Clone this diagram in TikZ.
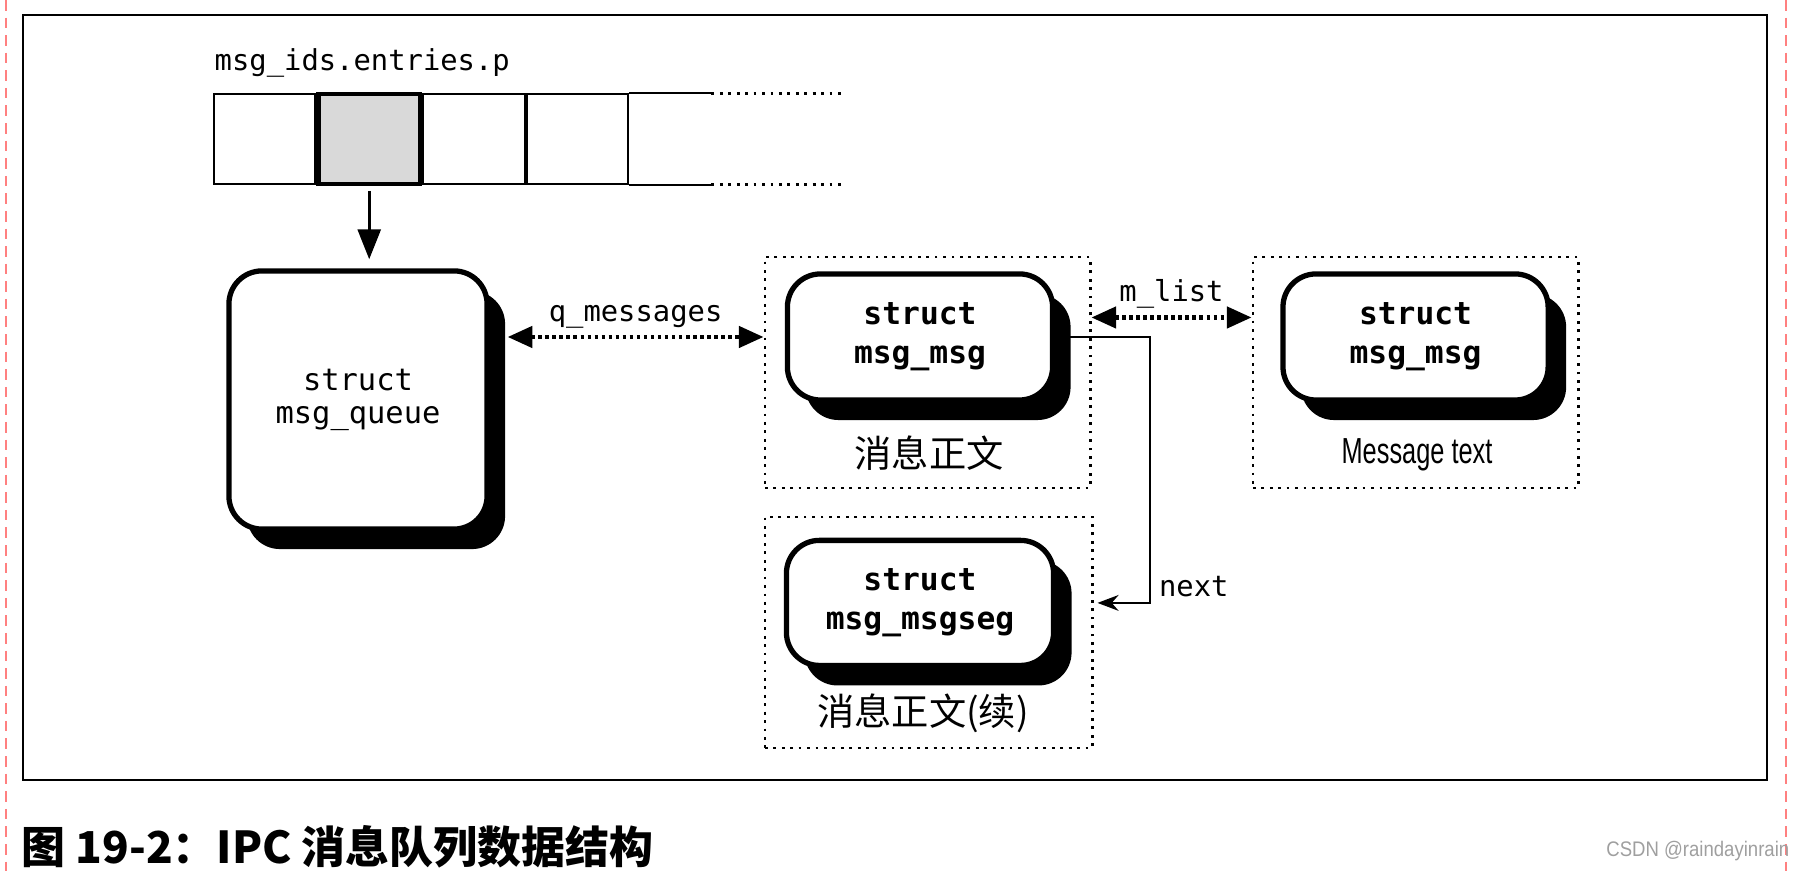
\documentclass[tikz,border=0pt]{standalone}
\usepackage{fontspec}
\setmonofont{DejaVu Sans Mono}
\newfontfamily\cjk{Noto Sans CJK SC}
\newfontfamily\lsans{Liberation Sans}
\usetikzlibrary{arrows.meta,positioning,shadows,calc}

\begin{document}
\begin{tikzpicture}[x=0.01cm, y=-0.01cm, every node/.style={inner sep=0pt},
	cell/.style={draw, line width=0.6pt, minimum width=1.015cm, minimum height=0.895cm},
	structbox/.style={draw, line width=1.5pt, fill=white, rounded corners=0.33cm, align=center,
		font=\ttfamily\bfseries\fontsize{8.9}{11.2}\selectfont,
		drop shadow={shadow xshift=0.18cm, shadow yshift=-0.2cm, fill=black, opacity=1}},
	groupbox/.style={draw, line width=0.8pt, dash pattern=on 0.8pt off 1.6pt, minimum width=3.25cm, minimum height=2.31cm},
	codetext/.style={font=\ttfamily\fontsize{8.2}{10}\selectfont},
	cntext/.style={font=\cjk\fontsize{10.6}{12}\selectfont},
	dotlink/.style={line width=1.2pt, dash pattern=on 1pt off 1pt, {Triangle[length=7pt,width=6pt]}-{Triangle[length=7pt,width=6pt]}}]
			\useasboundingbox (0,0) rectangle (1799,871);
			\draw[red!50, line width=0.3pt, dash pattern=on 3pt off 2pt] (6,0) -- (6,871) (1786,0) -- (1786,871);
			\draw[line width=0.7pt] (23,15) rectangle (1767,780);
			
			\node[codetext, anchor=base west] (arrlbl) at (214,71) {msg\_ids.entries.p};
			\node[cell] (c1) at (264.5,139) {};
			\node[cell, fill=gray!30, line width=1.2pt, right=0pt of c1] (c2) {};
			\node[cell, right=0pt of c2] (c3) {};
			\node[cell, right=0pt of c3] (c4) {};
			\draw[line width=0.6pt] (c4.north east) -- ++(82,0) coordinate (topend);
			\draw[line width=0.6pt] (c4.south east) -- ++(82,0) coordinate (botend);
			\draw[line width=0.8pt, dash pattern=on 0.8pt off 1.6pt] (topend) -- ++(133,0);
			\draw[line width=0.8pt, dash pattern=on 0.8pt off 1.6pt] (botend) -- ++(133,0);
			
			\node[structbox, font=\ttfamily\fontsize{8.65}{9.6}\selectfont, minimum width=2.58cm, minimum height=2.58cm] (qbox) at (358,400) {struct\\msg\_queue};
			\draw[line width=0.9pt, -{Triangle[length=8.5pt,width=6.5pt]}, shorten <=0.05cm, shorten >=0.09cm] (c2.south) -- (c2.south |- qbox.north);
			
			\node[groupbox] (g1) at (927.5,372.5) {};
			\node[groupbox] (g2) at (1415.5,372.5) {};
			\node[groupbox, minimum width=3.27cm] (g3) at (928.5,632.5) {};
			
			\node[structbox, minimum width=2.65cm, minimum height=1.26cm] (m1) at (920,337) {struct\\msg\_msg};
			\node[structbox, minimum width=2.65cm, minimum height=1.26cm, right=2.25cm of m1] (m2) {struct\\msg\_msg};
			\node[structbox, minimum width=2.67cm, minimum height=1.25cm, below=1.35cm of m1] (m3) {struct\\msg\_msgseg};
			
			\node[cntext] (body1) at (929,453) {消息正文};
			\node[font=\lsans\fontsize{10.3}{12}\selectfont] (body2) at (1417,455) {\scalebox{0.7}[1]{Message text}};
			\node[cntext] (body3) at (923,713) {消息正文(续)};
			
			\draw[dotlink] ($(qbox.east |- m1.west)+(18,0)$) -- node[codetext, above=2pt] (qmsg) {q\_messages} (g1.west |- m1.west);
			\draw[dotlink] ($(g1.east)+(0,-55)$) -- node[codetext, above=2pt] (mlist) {m\_list} ($(g2.west)+(0,-55)$);
			
			\coordinate (nextturn) at (1150,337);
			\draw[line width=0.6pt, -{Stealth[length=6pt,width=4.5pt]}, shorten >=0.04cm] (m1.east) -- (nextturn) |- node[codetext, pos=0.47, anchor=west, xshift=0.08cm] (nextlbl) {next} (g3.east |- m3.east);
			
			\node[font=\cjk\bfseries\fontsize{12.5}{15}\selectfont, anchor=base west] (caption) at (21,864) {图 19-2：IPC 消息队列数据结构};
			\node[font=\lsans\fontsize{6}{7}\selectfont, text=gray!75, anchor=base east] (mark) at (1790,857) {\scalebox{0.88}[1]{CSDN @raindayinrain}};
		\end{tikzpicture}
\end{document}
